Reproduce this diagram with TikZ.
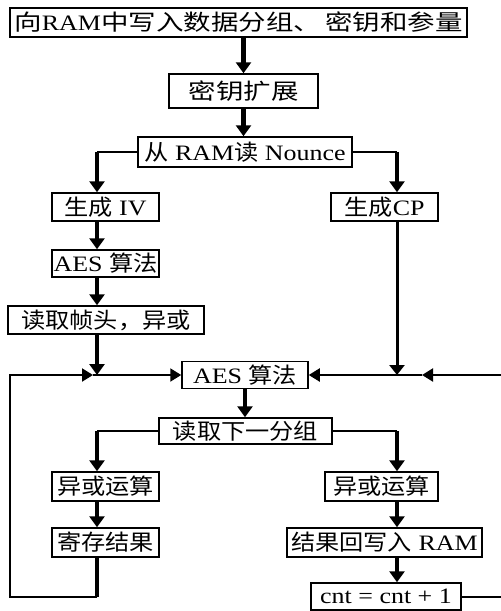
\documentclass[tikz,border=0pt]{standalone}
\usepackage{fontspec}
\setmainfont[FakeStretch=1.18]{Liberation Serif}
\newfontfamily\cjk[FakeStretch=1.1]{Noto Sans CJK SC}
\newfontfamily\cjkw[FakeStretch=1.25]{Noto Sans CJK SC}
\newcommand\zh[1]{{\cjk #1}}
\newcommand\zhw[1]{{\cjkw #1}}
\usetikzlibrary{arrows.meta}
\tikzset{
  box/.style={draw, line width=1.5pt, inner sep=0pt, font=\fontsize{22}{26}\selectfont},
  thk/.style={line width=4.5pt, -{Triangle[width=15pt,length=11pt]}},
  thkline/.style={line width=3.5pt},
  med/.style={line width=3pt, -{Triangle[width=15pt,length=10pt]}},
  thinline/.style={line width=1.2pt},
  hl/.style={line width=2pt},
  harr/.style={line width=2pt, -{Triangle[width=13pt,length=11pt]}},
}
\begin{document}
\begin{tikzpicture}[x=1pt,y=-1pt]
\useasboundingbox (0,0) rectangle (501,611);
% boxes
\node[box, minimum width=457pt, minimum height=29pt] (b1) at (238.5,22.5) {\zhw{向}RAM\zhw{中写入数据分组、\hspace{4pt}密钥和参量}};
\node[box, minimum width=149pt, minimum height=34pt] (b2) at (243.5,91) {\zhw{密钥扩展}};
\node[box, minimum width=214pt, minimum height=30pt] (b3) at (245,152) {\zh{从} RAM\zh{读} Nounce};
\node[box, minimum width=107pt, minimum height=28pt] (iv) at (105.5,207) {\zh{生成} IV};
\node[box, minimum width=107pt, minimum height=28pt] (cp) at (384.5,207) {\zh{生成}CP};
\node[box, minimum width=107pt, minimum height=27pt] (aes1) at (105.5,263.5) {AES \zh{算法}};
\node[box, minimum width=196pt, minimum height=28pt] (zt) at (106,320) {\zh{读取帧头，异或}};
\node[box, minimum width=126pt, minimum height=27pt] (aes) at (245,375) {AES \zh{算法}};
\node[box, minimum width=173pt, minimum height=26pt] (nx) at (245.5,431) {\zh{读取下一分组}};
\node[box, minimum width=107pt, minimum height=29pt] (xl) at (105.5,486.5) {\zh{异或运算}};
\node[box, minimum width=113pt, minimum height=29pt] (xr) at (381.5,486.5) {\zh{异或运算}};
\node[box, minimum width=107pt, minimum height=29pt] (st) at (105.5,542.5) {\zh{寄存结果}};
\node[box, minimum width=195pt, minimum height=29pt] (wb) at (384.5,542.5) {\zh{结果回写入} RAM};
\node[box, minimum width=150pt, minimum height=27pt] (cnt) at (386,596.5) {cnt = cnt + 1};
% coordinates
\coordinate (colL) at (97,152);
\coordinate (colR) at (397,152);
\coordinate (jL) at (97,375);
\coordinate (jR) at (397,375);
\coordinate (jLa) at (93,375);
\coordinate (jRa) at (422,375);
\coordinate (edgeR) at (501,375);
\coordinate (loopBL) at (10,597);
\coordinate (nL) at (97,431);
\coordinate (nR) at (397,431);
% connectors
\draw[thk] (b1.south -| b2.north) -- (b2.north);
\draw[thk] (b2.south) -- (b2.south |- b3.north);
\draw[thinline] (b3.west) -- (colL);
\draw[thk] (colL) -- (colL |- iv.north);
\draw[thinline] (b3.east) -- (colR);
\draw[thk] (colR) -- (colR |- cp.north);
\draw[thk] (colL |- iv.south) -- (colL |- aes1.north);
\draw[thk] (colL |- aes1.south) -- (colL |- zt.north);
\draw[thk] (colL |- zt.south) -- (jL);
\draw[med] (colR |- cp.south) -- (jR);
\draw[harr] (jLa) -- (aes.west);
\draw[harr] (jRa) -- (aes.east);
\draw[harr] (edgeR) -- (jRa);
\draw[thkline] (colL |- st.south) -- (colL |- loopBL);
\draw[harr] (colL |- loopBL) -- (loopBL) -- (loopBL |- jLa) -- (jLa);
\draw[thk] (aes.south) -- (aes.south |- nx.north);
\draw[thinline] (nx.west) -- (nL);
\draw[thk] (nL) -- (nL |- xl.north);
\draw[thinline] (nx.east) -- (nR);
\draw[thk] (nR) -- (nR |- xr.north);
\draw[thk] (colL |- xl.south) -- (colL |- st.north);
\draw[thk] (colR |- xr.south) -- (colR |- wb.north);
\draw[thk] (colR |- wb.south) -- (colR |- cnt.north);
\draw[hl] (cnt.east) -- (cnt.east -| edgeR);
\end{tikzpicture}
\end{document}
